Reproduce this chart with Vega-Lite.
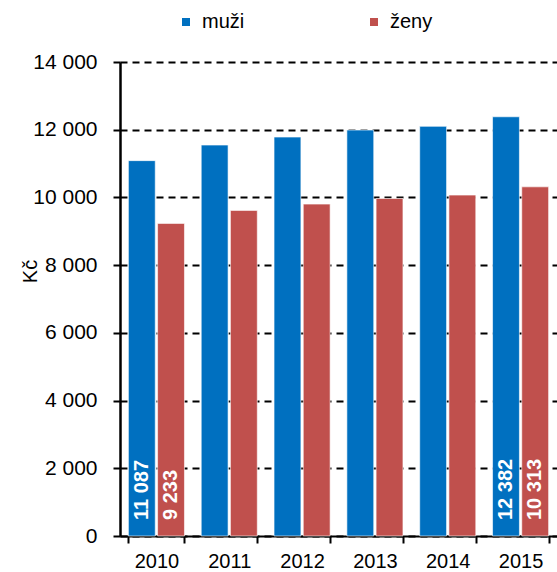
{
  "$schema": "https://vega.github.io/schema/vega-lite/v6.json",
  "width": 437,
  "height": 474,
  "autosize": {"type": "none"},
  "padding": {"left": 120, "top": 62, "right": 0, "bottom": 36},
  "background": "white",
  "config": {
    "font": "Liberation Sans",
    "view": {"stroke": null},
    "locale": {"number": {"decimal": ",", "thousands": " ", "grouping": [3], "currency": ["", " Kč"]}}
  },
  "data": {
    "values": [
      {"rok": "2010", "pohlavi": "muži", "mzda": 11087},
      {"rok": "2010", "pohlavi": "ženy", "mzda": 9233},
      {"rok": "2011", "pohlavi": "muži", "mzda": 11547},
      {"rok": "2011", "pohlavi": "ženy", "mzda": 9617},
      {"rok": "2012", "pohlavi": "muži", "mzda": 11783},
      {"rok": "2012", "pohlavi": "ženy", "mzda": 9803},
      {"rok": "2013", "pohlavi": "muži", "mzda": 11990},
      {"rok": "2013", "pohlavi": "ženy", "mzda": 9971},
      {"rok": "2014", "pohlavi": "muži", "mzda": 12100},
      {"rok": "2014", "pohlavi": "ženy", "mzda": 10069},
      {"rok": "2015", "pohlavi": "muži", "mzda": 12382},
      {"rok": "2015", "pohlavi": "ženy", "mzda": 10313}
    ]
  },
  "encoding": {
    "x": {
      "field": "rok", "type": "nominal",
      "scale": {"paddingInner": 0.23, "paddingOuter": 0.115},
      "axis": {
        "title": null, "labelAngle": 0, "tickBand": "extent",
        "domainColor": "black", "domainWidth": 2,
        "tickColor": "black", "tickWidth": 2, "tickSize": 7,
        "labelFontSize": 20, "labelColor": "black", "labelPadding": 8
      }
    },
    "xOffset": {"field": "pohlavi", "type": "nominal", "scale": {"paddingInner": 0.08}},
    "y": {
      "type": "quantitative",
      "scale": {"domain": [0, 14000]},
      "axis": {
        "title": "Kč", "titleFontSize": 20, "titleFontWeight": "normal", "titleColor": "black",
        "titleAngle": 270, "titleX": -90, "titleY": 209, "titleAlign": "center", "titleBaseline": "middle",
        "values": [0, 2000, 4000, 6000, 8000, 10000, 12000, 14000],
        "format": ",d",
        "grid": true, "gridColor": "black", "gridDash": [7, 5], "gridWidth": 2,
        "domainColor": "black", "domainWidth": 2.5,
        "tickColor": "black", "tickWidth": 2, "tickSize": 7,
        "labelFontSize": 21, "labelColor": "black", "labelPadding": 16
      }
    }
  },
  "layer": [
    {
      "mark": {"type": "bar", "stroke": "white", "strokeWidth": 1, "strokeOpacity": 0.6},
      "encoding": {
        "y": {"field": "mzda", "type": "quantitative"},
        "color": {
          "field": "pohlavi", "type": "nominal",
          "scale": {"domain": ["muži", "ženy"], "range": ["#0070C0", "#C0504D"]},
          "legend": {
            "title": null, "orient": "none", "direction": "horizontal",
            "legendX": 56, "legendY": -50, "padding": 0,
            "symbolType": "square", "symbolSize": 64, "symbolStrokeWidth": 0,
            "labelFontSize": 20, "labelColor": "black", "labelOffset": 6,
            "columnPadding": 119
          }
        }
      }
    },
    {
      "transform": [{"filter": "datum.rok == '2010' || datum.rok == '2015'"}],
      "mark": {"type": "text", "angle": 270, "align": "left", "baseline": "middle", "dx": 16, "color": "white", "fontWeight": "bold", "fontSize": 20},
      "encoding": {
        "y": {"datum": 0},
        "text": {"field": "mzda", "type": "quantitative", "format": ",d"}
      }
    }
  ]
}
